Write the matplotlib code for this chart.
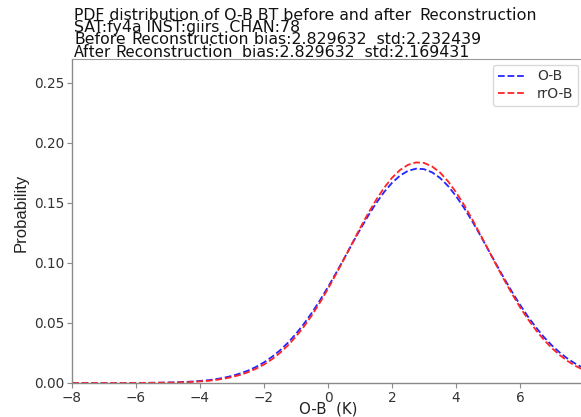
import matplotlib
matplotlib.use("Agg")
import matplotlib.pyplot as plt

# O-B departures (K) on a 0.25 K grid from -8 to 8
x_vals = [k * 0.25 for k in range(-32, 33)]

# PDF of O-B before reconstruction
ob_pdf = [0.0000, 0.0000, 0.0000, 0.0000, 0.0000, 0.0000, 0.0000, 0.0000,
          0.0001, 0.0001, 0.0002, 0.0003, 0.0004, 0.0006, 0.0008, 0.0012,
          0.0017, 0.0023, 0.0032, 0.0044, 0.0059, 0.0079, 0.0103, 0.0134,
          0.0172, 0.0218, 0.0272, 0.0336, 0.0410, 0.0494, 0.0587, 0.0690,
          0.0800, 0.0916, 0.1036, 0.1158, 0.1277, 0.1391, 0.1497, 0.1590,
          0.1668, 0.1728, 0.1768, 0.1786, 0.1782, 0.1756, 0.1709, 0.1642,
          0.1558, 0.1460, 0.1351, 0.1235, 0.1114, 0.0993, 0.0874, 0.0760,
          0.0652, 0.0553, 0.0463, 0.0382, 0.0312, 0.0252, 0.0200, 0.0158,
          0.0122]

# PDF of O-B after reconstruction
rr_pdf = [0.0000, 0.0000, 0.0000, 0.0000, 0.0000, 0.0000, 0.0000, 0.0000,
          0.0000, 0.0001, 0.0001, 0.0002, 0.0003, 0.0004, 0.0006, 0.0009,
          0.0013, 0.0018, 0.0026, 0.0036, 0.0050, 0.0067, 0.0090, 0.0119,
          0.0154, 0.0198, 0.0251, 0.0314, 0.0387, 0.0471, 0.0566, 0.0671,
          0.0785, 0.0907, 0.1033, 0.1161, 0.1289, 0.1411, 0.1524, 0.1625,
          0.1710, 0.1775, 0.1818, 0.1838, 0.1834, 0.1805, 0.1754, 0.1681,
          0.1590, 0.1485, 0.1368, 0.1243, 0.1115, 0.0987, 0.0862, 0.0743,
          0.0632, 0.0531, 0.0440, 0.0359, 0.0290, 0.0231, 0.0181, 0.0140,
          0.0107]

x_ticks = [-8, -6, -4, -2, 0, 2, 4, 6, 8]
y_ticks = [0.00, 0.05, 0.10, 0.15, 0.20, 0.25]

series_names = ["O-B", "rrO-B"]
sat, inst, chan = "fy4a", "giirs", 78
bias_before, std_before = 2.829632, 2.232439
bias_after, std_after = 2.829632, 2.169431

LATIN = "DejaVu Sans"
ALT = "Noto Sans CJK SC"

W, H = 581, 417
fig = plt.figure(figsize=(W / 100, H / 100), dpi=100)
fig.patch.set_facecolor("white")

# axes box in pixel terms: left 72, right 584, top 59, bottom 383
ax = fig.add_axes([72 / W, (H - 383) / H, (584 - 72) / W, (383 - 59) / H])

ax.plot(x_vals, ob_pdf, linestyle="--", color="#2424ff", lw=1.3,
        label=series_names[0])
ax.plot(x_vals, rr_pdf, linestyle="--", color="#ff2424", lw=1.3,
        label=series_names[1])

ax.set_xlim(-8, 8)
ax.set_ylim(0, 0.27)
ax.set_xticks(x_ticks)
ax.set_yticks(y_ticks)
ax.set_yticklabels([f"{v:.2f}" for v in y_ticks])

for side in ("left", "bottom"):
    ax.spines[side].set_color("#8a8a8a")
    ax.spines[side].set_linewidth(1.0)
ax.spines["top"].set_color("#9a9a9a")
ax.spines["right"].set_color("#9a9a9a")
ax.tick_params(axis="both", length=3.5, width=0.8, color="#8a8a8a",
               labelsize=9.8, labelcolor="#333333", pad=2)

ax.set_xlabel("O-B  (K)", fontsize=10.8, color="#222222", labelpad=-2,
              family=LATIN)
ax.set_ylabel("Probability", fontsize=12, color="#222222",
              family="Liberation Sans")
ax.yaxis.set_label_coords(-0.084, 0.525)

leg = ax.legend(loc="upper right", fontsize=10, frameon=True,
                handlelength=2.0, borderaxespad=0.4, labelspacing=0.25,
                borderpad=0.35)
leg.get_frame().set_edgecolor("#d0d0d0")
for t in leg.get_texts():
    t.set_color("#333333")

# multi-font title block, one line at a time, segments share a baseline
lines = [
    [("PDF distribution of O-B BT before and after", LATIN, 0),
     ("Reconstruction", ALT, 8)],
    [(f"SAT:{sat} INST:{inst}  CHAN:{chan}", LATIN, 0)],
    [("Before", LATIN, 0), ("Reconstruction", ALT, 6),
     (f"bias:{bias_before:.6f}  std:{std_before:.6f}", LATIN, 5)],
    [("After", ALT, 0), ("Reconstruction", ALT, 4),
     (f"bias:{bias_after:.6f}  std:{std_after:.6f}", LATIN, 9)],
]
baselines = [19.5, 32.0, 44.5, 57.0]
sizes = {LATIN: 11.3, ALT: 11.9}
renderer = fig.canvas.get_renderer()
for segs, base in zip(lines, baselines):
    x_px = 74.0
    for text, fam, gap in segs:
        x_px += gap
        t = fig.text(x_px / W, (H - base) / H, text, family=fam,
                     fontsize=sizes[fam], color="#111111",
                     ha="left", va="baseline")
        x_px += t.get_window_extent(renderer).width

fig.savefig("out.png", dpi=100, facecolor="white")
